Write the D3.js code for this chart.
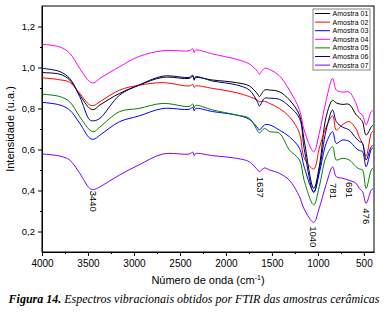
<!DOCTYPE html>
<html>
<head>
<meta charset="utf-8">
<script src="https://cdn.jsdelivr.net/npm/d3@7"></script>
<style>
body { margin: 0; background: #fff; }
svg { display: block; }
</style>
</head>
<body>
<svg width="387" height="317"></svg>
<script>
var wavenumbers = [4000, 3805, 3700, 3590, 3480, 3436, 3370, 3155, 2950, 2685, 2400, 2360, 2345, 2330, 2145, 1885, 1745, 1655, 1637, 1580, 1525, 1420, 1310, 1200, 1150, 1045, 985, 910, 840, 800, 735, 660, 585, 550, 515, 476, 420, 400];

var amostra01 = [0.975, 0.967, 0.94, 0.866, 0.80, 0.795, 0.817, 0.874, 0.913, 0.952, 0.947, 0.957, 0.938, 0.95, 0.939, 0.926, 0.91, 0.87, 0.858, 0.89, 0.89, 0.882, 0.842, 0.768, 0.646, 0.41, 0.516, 0.76, 0.84, 0.827, 0.82, 0.82, 0.77, 0.754, 0.736, 0.67, 0.71, 0.72];
var amostra02 = [0.95, 0.94, 0.928, 0.874, 0.817, 0.815, 0.833, 0.89, 0.913, 0.926, 0.91, 0.917, 0.903, 0.91, 0.898, 0.877, 0.858, 0.84, 0.833, 0.835, 0.825, 0.80, 0.76, 0.68, 0.56, 0.505, 0.606, 0.71, 0.765, 0.695, 0.72, 0.736, 0.70, 0.66, 0.63, 0.565, 0.68, 0.69];
var amostra03 = [0.83, 0.817, 0.793, 0.728, 0.655, 0.65, 0.67, 0.736, 0.763, 0.80, 0.796, 0.806, 0.788, 0.80, 0.785, 0.768, 0.747, 0.705, 0.695, 0.72, 0.72, 0.695, 0.662, 0.606, 0.516, 0.395, 0.484, 0.63, 0.687, 0.63, 0.646, 0.64, 0.606, 0.595, 0.59, 0.516, 0.60, 0.61];
var amostra04 = [1.113, 1.10, 1.07, 0.996, 0.93, 0.925, 0.947, 1.004, 1.053, 1.082, 1.082, 1.092, 1.073, 1.085, 1.066, 1.04, 1.017, 0.98, 0.968, 0.996, 0.99, 0.96, 0.89, 0.793, 0.695, 0.589, 0.68, 0.84, 0.947, 0.89, 0.88, 0.88, 0.825, 0.78, 0.768, 0.72, 0.785, 0.79];
var amostra05 = [0.87, 0.858, 0.833, 0.76, 0.695, 0.687, 0.71, 0.785, 0.80, 0.825, 0.81, 0.822, 0.803, 0.815, 0.793, 0.768, 0.752, 0.69, 0.68, 0.703, 0.687, 0.68, 0.598, 0.549, 0.45, 0.33, 0.42, 0.565, 0.614, 0.549, 0.557, 0.549, 0.516, 0.505, 0.50, 0.41, 0.50, 0.51];
var amostra06 = [0.996, 0.98, 0.947, 0.858, 0.744, 0.74, 0.752, 0.866, 0.913, 0.958, 0.952, 0.962, 0.943, 0.955, 0.934, 0.915, 0.89, 0.83, 0.812, 0.85, 0.85, 0.845, 0.81, 0.752, 0.606, 0.39, 0.50, 0.695, 0.793, 0.736, 0.71, 0.695, 0.655, 0.64, 0.63, 0.549, 0.614, 0.62];
var amostra07 = [0.578, 0.568, 0.549, 0.484, 0.41, 0.405, 0.418, 0.476, 0.524, 0.578, 0.578, 0.587, 0.57, 0.58, 0.57, 0.557, 0.54, 0.50, 0.492, 0.51, 0.50, 0.484, 0.45, 0.37, 0.31, 0.245, 0.315, 0.43, 0.515, 0.467, 0.46, 0.45, 0.435, 0.41, 0.395, 0.337, 0.402, 0.41];

var seriesNames = ["Amostra 01", "Amostra 02", "Amostra 03", "Amostra 04", "Amostra 05", "Amostra 06", "Amostra 07"];
var seriesValues = [amostra01, amostra02, amostra03, amostra04, amostra05, amostra06, amostra07];
var seriesColors = ["#000000", "#ff0000", "#0000ff", "#ff00ff", "#008000", "#000080", "#7f00ff"];

var xTicks = [4000, 3500, 3000, 2500, 2000, 1500, 1000, 500];
var yTicks = [0.2, 0.4, 0.6, 0.8, 1.0, 1.2];

// band labels: where each label sits (cm-1) and the top of the label (y units)
var bandLabels = ["3440", "1637", "1040", "781", "691", "476"];
var bandPos = [3440, 1630, 1050, 830, 660, 476];
var bandTop = [0.399, 0.467, 0.226, 0.437, 0.441, 0.313];

var svg = d3.select("svg");
var mLeft = 42, mRight = 374, mTop = 6, mBottom = 252;

var x = d3.scaleLinear().domain([4000, 390]).range([mLeft, mRight]);
var y = d3.scaleLinear().domain([0.1, 1.3]).range([mBottom, mTop]);

var font = "Liberation Sans, Arial, sans-serif";

// frame
svg.append("rect")
  .attr("x", mLeft).attr("y", mTop)
  .attr("width", mRight - mLeft).attr("height", mBottom - mTop)
  .attr("fill", "none").attr("stroke", "#000").attr("stroke-width", 1);

// axes with minor ticks
var xMinor = d3.range(3750, 390, -500);
svg.append("g")
  .attr("transform", "translate(0," + mBottom + ")")
  .call(d3.axisBottom(x).tickValues(xMinor).tickSize(2).tickFormat(""))
  .call(function(g) { g.select(".domain").remove(); });
var xAxis = svg.append("g")
  .attr("transform", "translate(0," + mBottom + ")")
  .call(d3.axisBottom(x).tickValues(xTicks).tickSize(4).tickPadding(4).tickSizeOuter(0)
    .tickFormat(d3.format("d")));
xAxis.selectAll("text").attr("font-family", font).attr("font-size", 10).attr("fill", "#000");

var yMinor = [0.3, 0.5, 0.7, 0.9, 1.1];
svg.append("g")
  .attr("transform", "translate(" + mLeft + ",0)")
  .call(d3.axisLeft(y).tickValues(yMinor).tickSize(2).tickFormat(""))
  .call(function(g) { g.select(".domain").remove(); });
var yAxis = svg.append("g")
  .attr("transform", "translate(" + mLeft + ",0)")
  .call(d3.axisLeft(y).tickValues(yTicks).tickSize(4).tickPadding(3).tickSizeOuter(0)
    .tickFormat(function(d) { return d3.format(".1f")(d).replace(".", ","); }));
yAxis.selectAll("text").attr("font-family", font).attr("font-size", 9.5).attr("fill", "#000");
svg.selectAll(".domain").attr("stroke", "#000");

// spectra
var line = d3.line()
  .x(function(d) { return x(d[0]); })
  .y(function(d) { return y(d[1]); })
  .curve(d3.curveCatmullRom.alpha(0.5));

seriesValues.forEach(function(vals, i) {
  var pts = wavenumbers.map(function(w, j) { return [w, vals[j]]; });
  svg.append("path")
    .datum(pts)
    .attr("fill", "none")
    .attr("stroke", seriesColors[i])
    .attr("stroke-width", 1)
    .attr("d", line);
});

// band labels, rotated to read downwards
bandLabels.forEach(function(t, i) {
  svg.append("text")
    .attr("transform", "translate(" + x(bandPos[i]) + "," + y(bandTop[i]) + ") rotate(90)")
    .attr("dy", "0.35em")
    .attr("font-family", font)
    .attr("font-size", 9.5)
    .text(t);
});

// legend
var lg = svg.append("g").attr("transform", "translate(313,9)");
lg.append("rect").attr("width", 57).attr("height", 61)
  .attr("fill", "#fff").attr("stroke", "#666").attr("stroke-width", 0.8);
seriesNames.forEach(function(n, i) {
  var ly = 4.5 + i * 8.6;
  lg.append("line").attr("x1", 2).attr("x2", 17).attr("y1", ly).attr("y2", ly)
    .attr("stroke", seriesColors[i]).attr("stroke-width", 1);
  lg.append("text").attr("x", 19.5).attr("y", ly).attr("dy", "0.35em")
    .attr("font-family", font).attr("font-size", 7).text(n);
});

// axis titles
svg.append("text")
  .attr("transform", "translate(14," + ((mTop + mBottom) / 2) + ") rotate(-90)")
  .attr("text-anchor", "middle")
  .attr("font-family", font).attr("font-size", 11)
  .text("Intensidade (u.a.)");

var xt = svg.append("text")
  .attr("x", (mLeft + mRight) / 2).attr("y", 284)
  .attr("text-anchor", "middle")
  .attr("font-family", font).attr("font-size", 11);
xt.append("tspan").text("Número de onda (cm");
xt.append("tspan").attr("font-size", 7).attr("dy", -4.5).text("-1");
xt.append("tspan").attr("dy", 4.5).text(")");

// figure caption
var cap = svg.append("text")
  .attr("x", 194).attr("y", 303)
  .attr("text-anchor", "middle")
  .attr("font-family", "Liberation Serif, Times New Roman, serif")
  .attr("font-style", "italic").attr("font-size", 12);
cap.append("tspan").attr("font-weight", "bold").text("Figura 14.");
cap.append("tspan").text(" Espectros vibracionais obtidos por FTIR das amostras cerâmicas");
</script>
</body>
</html>
